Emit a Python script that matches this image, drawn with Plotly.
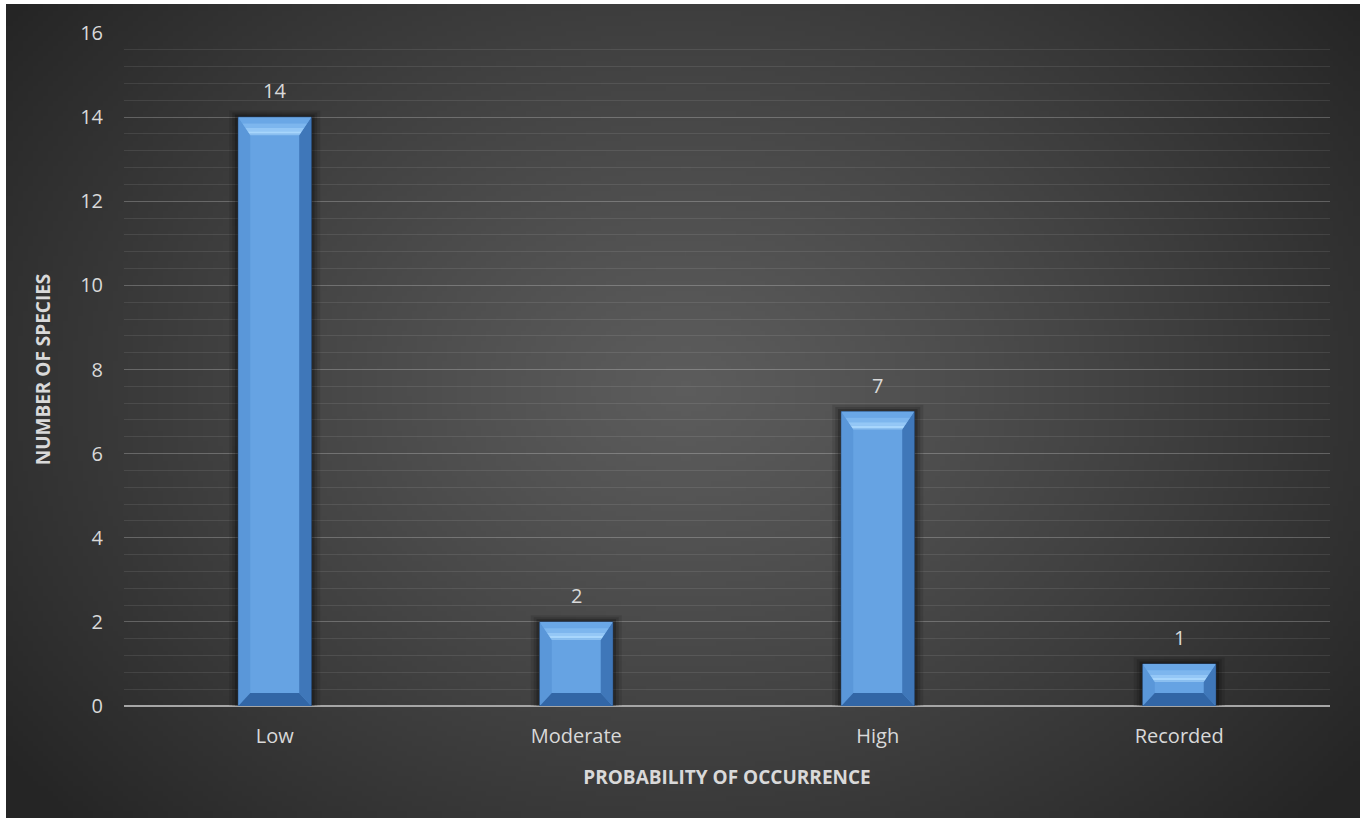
import base64
import struct
import zlib

import plotly.graph_objects as go

# ---- data -------------------------------------------------------------
categories = ["Low", "Moderate", "High", "Recorded"]
species_counts = [14, 2, 7, 1]
y_ticks = [0, 2, 4, 6, 8, 10, 12, 14, 16]

# ---- figure geometry --------------------------------------------------
W, H = 1362, 818
M_L, M_R, M_T, M_B = 124, 32, 33, 112
plot_w = W - M_L - M_R
plot_h = H - M_T - M_B
Y_MAX = 16

FONT = "Open Sans"
TXT = "#d9d9d9"


def radial_png(w, h):
    """Small greyscale PNG with a soft radial glow, stretched as backdrop."""
    cx, cy = 0.50 * w, 0.47 * h
    rx, ry = 0.62 * w, 0.78 * h
    inner, outer = 92, 37
    rows = []
    for j in range(h):
        row = bytearray([0])
        for i in range(w):
            r = (((i - cx) / rx) ** 2 + ((j - cy) / ry) ** 2) ** 0.5
            t = min(r, 1.0)
            t = t ** 1.15
            row.append(int(round(inner + (outer - inner) * t)))
        rows.append(bytes(row))
    raw = b"".join(rows)

    def chunk(tag, data):
        c = struct.pack(">I", len(data)) + tag + data
        return c + struct.pack(">I", zlib.crc32(tag + data) & 0xFFFFFFFF)

    png = b"\x89PNG\r\n\x1a\n"
    png += chunk(b"IHDR", struct.pack(">IIBBBBB", w, h, 8, 0, 0, 0, 0))
    png += chunk(b"IDAT", zlib.compress(raw, 9))
    png += chunk(b"IEND", b"")
    return "data:image/png;base64," + base64.b64encode(png).decode()


x_pos = list(range(len(categories)))
bar_w = 0.242
px_x = plot_w / len(categories)          # pixels per category unit
px_y = plot_h / Y_MAX                    # pixels per count unit
bev_x = 12 / px_x
bev_top = 18 / px_y
bev_bot = 13 / px_y

fig = go.Figure()

# soft drop shadow behind the columns
for extra, lift, alpha in [(0.060, 0.16, 0.10), (0.040, 0.11, 0.14), (0.022, 0.06, 0.22)]:
    fig.add_trace(go.Bar(
        x=x_pos, y=[v + lift for v in species_counts], width=bar_w + extra,
        marker=dict(color=f"rgba(0,0,0,{alpha})", line=dict(width=0)),
        hoverinfo="skip", showlegend=False,
    ))

# main columns (front face colour)
fig.add_trace(go.Bar(
    x=x_pos, y=species_counts, width=bar_w,
    marker=dict(color="#66a3e3", line=dict(color="#22406a", width=1)),
    name="Number of species", showlegend=False,
))


def bevel_trace(poly_fn, color):
    xs, ys = [], []
    for c, v in zip(x_pos, species_counts):
        px, py = poly_fn(c, v)
        xs += px + [px[0], None]
        ys += py + [py[0], None]
    return go.Scatter(x=xs, y=ys, mode="lines", fill="toself",
                      fillcolor=color, line=dict(width=0),
                      hoverinfo="skip", showlegend=False)


h = bar_w / 2


def band(a, b):
    """Horizontal slice of the top bevel between depth fractions a and b."""
    def poly(c, v):
        return ([c - h + bev_x * a, c + h - bev_x * a, c + h - bev_x * b, c - h + bev_x * b],
                [v - bev_top * a, v - bev_top * a, v - bev_top * b, v - bev_top * b])
    return poly


def left_bevel(c, v):
    return ([c - h, c - h, c - h + bev_x, c - h + bev_x],
            [0, v, v - bev_top, bev_bot])


def right_bevel(c, v):
    return ([c + h, c + h, c + h - bev_x, c + h - bev_x],
            [0, v, v - bev_top, bev_bot])


def bottom_bevel(c, v):
    return ([c - h, c + h, c + h - bev_x, c - h + bev_x],
            [0, 0, bev_bot, bev_bot])


fig.add_trace(bevel_trace(left_bevel, "#5a97d9"))
fig.add_trace(bevel_trace(right_bevel, "#3f77b9"))
fig.add_trace(bevel_trace(bottom_bevel, "#3266a6"))
# top bevel shaded from mid blue down to a pale highlight
fig.add_trace(bevel_trace(band(0.0, 0.35), "#6aa7e6"))
fig.add_trace(bevel_trace(band(0.35, 0.6), "#7db6ee"))
fig.add_trace(bevel_trace(band(0.6, 0.78), "#94c7f6"))
fig.add_trace(bevel_trace(band(0.78, 0.92), "#a8d6fc"))
fig.add_trace(bevel_trace(band(0.92, 1.0), "#8bbff0"))

# value labels above the columns
for c, v in zip(x_pos, species_counts):
    fig.add_annotation(x=c, y=v, text=str(v), showarrow=False,
                       yanchor="bottom", yshift=11,
                       font=dict(family=FONT, size=20, color=TXT))

# backdrop image spanning the chart frame
fx0, fy0, fx1, fy1 = 6, 4, 1360, 818
fig.add_layout_image(
    source=radial_png(272, 163),
    xref="paper", yref="paper",
    x=(fx0 - M_L) / plot_w, y=(H - M_B - fy0) / plot_h,
    sizex=(fx1 - fx0) / plot_w, sizey=(fy1 - fy0) / plot_h,
    xanchor="left", yanchor="top", sizing="stretch", layer="below",
)

fig.update_layout(
    width=W, height=H,
    margin=dict(l=M_L, r=M_R, t=M_T, b=M_B),
    paper_bgcolor="white", plot_bgcolor="rgba(0,0,0,0)",
    barmode="overlay",
    font=dict(family=FONT, color=TXT),
    xaxis=dict(
        range=[-0.5, len(categories) - 0.5],
        tickmode="array", tickvals=x_pos, ticktext=categories,
        tickfont=dict(family=FONT, size=20, color=TXT),
        ticks="", showgrid=False, zeroline=False,
        showline=False, ticklabelstandoff=16,
        title=dict(text="<b>PROBABILITY OF OCCURRENCE</b>",
                   font=dict(family=FONT, size=19, color=TXT), standoff=22),
    ),
    yaxis=dict(
        range=[0, Y_MAX], tickmode="array", tickvals=y_ticks,
        tickfont=dict(family=FONT, size=20, color=TXT),
        ticks="", showline=False, zeroline=True,
        zerolinecolor="#a6a6a6", zerolinewidth=2,
        showgrid=True, gridcolor="rgba(255,255,255,0.16)", gridwidth=1.2,
        minor=dict(dtick=0.4, showgrid=True,
                   gridcolor="rgba(255,255,255,0.09)", gridwidth=1.2),
        ticklabelstandoff=20,
        title=dict(text="<b>NUMBER OF SPECIES</b>",
                   font=dict(family=FONT, size=19, color=TXT), standoff=24),
    ),
)

fig.write_html("out.html")
